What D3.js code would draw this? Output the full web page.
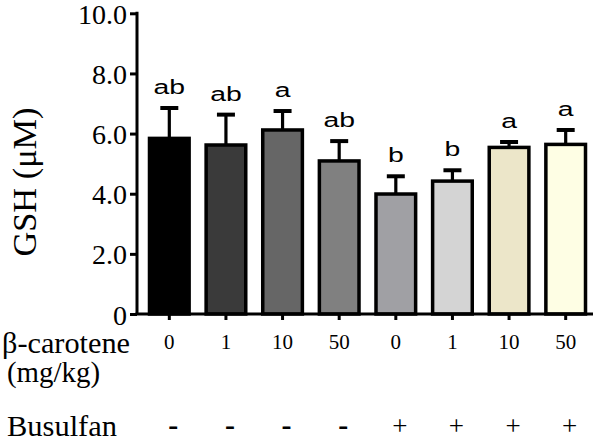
<!DOCTYPE html>
<html>
<head>
<meta charset="utf-8">
<script src="https://cdn.jsdelivr.net/npm/d3@7"></script>
<style>
  body { margin: 0; background: #fff; }
  svg { display: block; }
</style>
</head>
<body>
<svg id="chart" width="600" height="441"></svg>
<script>
const doses = ["0", "1", "10", "50", "0", "1", "10", "50"];
const busulfan = ["-", "-", "-", "-", "+", "+", "+", "+"];
const means = [5.84, 5.62, 6.12, 5.09, 3.99, 4.42, 5.54, 5.64];
const errTops = [6.85, 6.63, 6.75, 5.75, 4.58, 4.78, 5.72, 6.12];
const letters = ["ab", "ab", "a", "ab", "b", "b", "a", "a"];
const colors = ["#000000", "#3a3a3a", "#666666", "#808080", "#a0a0a4", "#d4d4d4", "#ece6c9", "#fefee4"];
const yTicks = [0, 2, 4, 6, 8, 10];
const yTickLabels = ["0", "2.0", "4.0", "6.0", "8.0", "10.0"];

const SERIF = "Liberation Serif, Times New Roman, serif";
const SANS = "Liberation Sans, Arial, sans-serif";

const svg = d3.select("#chart");
const idx = d3.range(means.length);

const x = d3.scaleBand().domain(idx).range([141, 594]).paddingInner(0.3).paddingOuter(0.15);
const y = d3.scaleLinear().domain([0, 10]).range([314, 13.3]);

// Bars
svg.append("g").selectAll("rect").data(idx).join("rect")
  .attr("x", i => x(i))
  .attr("y", i => y(means[i]))
  .attr("width", x.bandwidth())
  .attr("height", i => y(0) - y(means[i]))
  .attr("fill", i => colors[i])
  .attr("stroke", "#000")
  .attr("stroke-width", 3.5);

// Error bars
const eg = svg.append("g").attr("stroke", "#000");
eg.selectAll("line.stem").data(idx).join("line")
  .attr("class", "stem")
  .attr("x1", i => x(i) + x.bandwidth() / 2)
  .attr("x2", i => x(i) + x.bandwidth() / 2)
  .attr("y1", i => y(means[i]))
  .attr("y2", i => y(errTops[i]))
  .attr("stroke-width", 3.2);
eg.selectAll("line.cap").data(idx).join("line")
  .attr("class", "cap")
  .attr("x1", i => x(i) + x.bandwidth() / 2 - 9)
  .attr("x2", i => x(i) + x.bandwidth() / 2 + 9)
  .attr("y1", i => y(errTops[i]))
  .attr("y2", i => y(errTops[i]))
  .attr("stroke-width", 4);

// Significance letters
svg.append("g").selectAll("text").data(idx).join("text")
  .attr("transform", i => `translate(${x(i) + x.bandwidth() / 2},${y(errTops[i]) - 14}) scale(1.35,1)`)
  .attr("text-anchor", "middle")
  .style("font-family", SANS)
  .style("font-size", "21px")
  .attr("fill", "#000")
  .text(i => letters[i]);

// Y axis
const yAxis = d3.axisLeft(y).tickValues(yTicks).tickFormat((d, i) => yTickLabels[i]).tickSize(7).tickPadding(3);
const gy = svg.append("g").attr("transform", "translate(137,0)").call(yAxis);
gy.select(".domain").attr("stroke-width", 3).attr("d", `M0,${y(10) - 1.5}V${y(0)}`);
gy.selectAll(".tick line").attr("stroke-width", 3);
gy.selectAll(".tick text")
  .style("font-family", SERIF).style("font-size", "28px")
  .attr("fill", "#000").attr("dy", "0.36em");

// X axis
const xAxis = d3.axisBottom(x).tickFormat(i => doses[i]).tickSize(6).tickPadding(14);
const gx = svg.append("g").attr("transform", `translate(0,${y(0)})`).call(xAxis);
gx.select(".domain").attr("stroke-width", 3).attr("d", `M135.5,0H593`);
gx.selectAll(".tick line").attr("stroke-width", 3);
gx.selectAll(".tick text")
  .style("font-family", SERIF).style("font-size", "21px")
  .attr("fill", "#000");

// Y label
svg.append("text")
  .attr("transform", `translate(36,182) rotate(-90)`)
  .attr("text-anchor", "middle")
  .attr("textLength", 149).attr("lengthAdjust", "spacingAndGlyphs")
  .style("font-family", SERIF).style("font-size", "34px")
  .attr("fill", "#000")
  .text("GSH (μM)");

// Row labels
svg.append("text").attr("x", 2).attr("y", 353)
  .attr("textLength", 128).attr("lengthAdjust", "spacingAndGlyphs")
  .style("font-family", SERIF).style("font-size", "30px").text("β-carotene");
svg.append("text").attr("x", 7).attr("y", 382)
  .attr("textLength", 93).attr("lengthAdjust", "spacingAndGlyphs")
  .style("font-family", SERIF).style("font-size", "29px").text("(mg/kg)");
svg.append("text").attr("x", 7).attr("y", 436)
  .attr("textLength", 110).attr("lengthAdjust", "spacingAndGlyphs")
  .style("font-family", SERIF).style("font-size", "30px").text("Busulfan");

// Busulfan signs
svg.append("g").selectAll("text").data(idx).join("text")
  .attr("x", i => x(i) + x.bandwidth() / 2 + 4)
  .attr("y", 435)
  .attr("text-anchor", "middle")
  .style("font-family", SERIF)
  .style("font-size", i => busulfan[i] === "-" ? "30px" : "27px")
  .style("font-weight", i => busulfan[i] === "-" ? "bold" : "normal")
  .text(i => busulfan[i]);
</script>
</body>
</html>
